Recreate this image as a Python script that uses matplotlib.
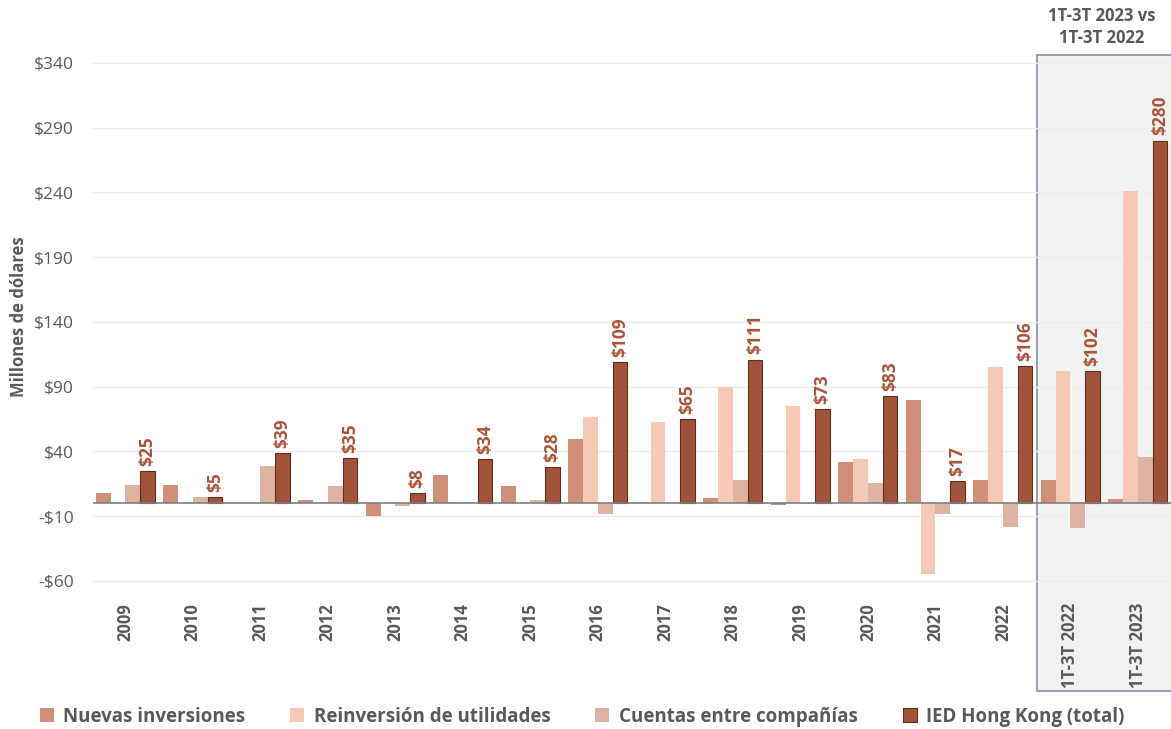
import numpy as np
import matplotlib.pyplot as plt
from matplotlib.patches import Rectangle, Patch

plt.rcParams['font.family'] = ['Open Sans', 'DejaVu Sans']

# data (millones de dolares)
categorias = ['2009', '2010', '2011', '2012', '2013', '2014', '2015', '2016',
              '2017', '2018', '2019', '2020', '2021', '2022', '1T-3T 2022', '1T-3T 2023']
nuevas = [8, 14, 0.5, 2.5, -10, 22, 13, 50, 0.5, 4, -1, 32, 80, 18, 18, 3.5]
reinversion = [0, 0, 0, 0, 0, 0, 0, 67, 63, 90, 75, 34, -55, 105, 102, 241]
cuentas = [14, 5, 29, 13, -2, 0, 2.5, -8.5, 0, 18, -0.5, 16, -8, -18, -19, 36]
total = [25, 5, 39, 35, 8, 34, 28, 109, 65, 111, 73, 83, 17, 106, 102, 280]
yticks = [-60, -10, 40, 90, 140, 190, 240, 290, 340]

c_nuevas = '#CF8F7A'
c_reinv = '#F6C9B7'
c_cuentas = '#DEB3A3'
c_total = '#A0533A'
c_text = '#595959'

fig = plt.figure(figsize=(11.71, 7.29), dpi=100)
ax = fig.add_axes([0.0794, 0.1995, 0.9206, 0.7319])
ax.set_facecolor('none')

# recuadro sombreado de la comparacion
box = Rectangle((1037/1171, 1-691/729), 0.2, (691-55)/729, transform=fig.transFigure,
                facecolor='#F2F2F2', edgecolor='#8A96A8', linewidth=1.3, zorder=-1)
fig.patches.append(box)

x = np.arange(len(categorias))
w = 0.218
ax.bar(x - 1.5*w, nuevas, w, color=c_nuevas, zorder=3)
ax.bar(x - 0.5*w, reinversion, w, color=c_reinv, zorder=3)
ax.bar(x + 0.5*w, cuentas, w, color=c_cuentas, zorder=3)
ax.bar(x + 1.5*w, total, w, color=c_total, edgecolor='#5E2E1F', linewidth=0.8, zorder=3)

for xi, v in zip(x, total):
    ax.text(xi + 1.5*w, v + 4, '$' + str(v), rotation=90, ha='center', va='bottom',
            color='#AA5539', fontsize=12.5, fontweight='bold')

ax.axhline(0, color='#7F7F7F', linewidth=1.2, zorder=4)
ax.set_xlim(-0.48, 15.49)
ax.set_ylim(-62, 350)
ax.set_yticks(yticks)
ax.set_yticklabels([('-$' + str(-t)) if t < 0 else ('$' + str(t)) for t in yticks],
                   color=c_text, fontsize=12.5)
ax.grid(axis='y', color='#EDEDED', linewidth=1, zorder=0)
ax.set_xticks(x)
ax.set_xticklabels(categorias, rotation=90, fontsize=12, fontweight='bold', color=c_text)
ax.tick_params(axis='both', length=0)
ax.tick_params(axis='x', pad=14)
ax.tick_params(axis='y', pad=14)
for s in ax.spines.values():
    s.set_visible(False)
ax.set_ylabel('Millones de dólares', fontsize=12, fontweight='bold', color=c_text, labelpad=4)

fig.text(0.941, 0.963, '1T-3T 2023 vs\n1T-3T 2022', ha='center', va='center',
         fontsize=12, fontweight='bold', color=c_text, linespacing=1.35)

handles = [Patch(facecolor=c_nuevas), Patch(facecolor=c_reinv), Patch(facecolor=c_cuentas),
           Patch(facecolor=c_total, edgecolor='#5E2E1F', linewidth=0.8)]
labels = ['Nuevas inversiones', 'Reinversión de utilidades', 'Cuentas entre compañías',
          'IED Hong Kong (total)']
leg = fig.legend(handles, labels, loc='center', bbox_to_anchor=(0.497, 0.017), ncol=4,
                 frameon=False, fontsize=13.5, handlelength=0.75, handleheight=0.75,
                 handletextpad=0.5, columnspacing=2.4)
for t in leg.get_texts():
    t.set_color(c_text)
    t.set_fontweight('bold')

fig.savefig('out.png', dpi=100)
